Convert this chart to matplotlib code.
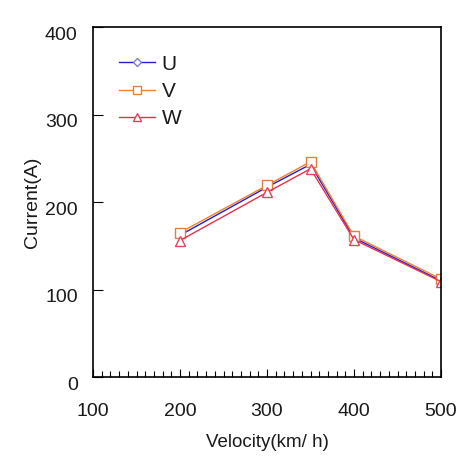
import matplotlib
matplotlib.use("Agg")
import matplotlib.pyplot as plt
from matplotlib.ticker import MultipleLocator
import matplotlib.transforms as mtransforms

plt.rcParams['font.family'] = ['Liberation Sans', 'DejaVu Sans']

velocity = [200, 300, 350, 400, 500]
current_u = [162, 217, 243, 159, 110]
current_v = [165, 219, 246, 161, 112]
current_w = [156, 211, 238, 157, 109]
series_names = ['U', 'V', 'W']

text_color = '#1a1a1a'

fig = plt.figure(figsize=(4.70, 4.61), dpi=100)
ax = fig.add_axes([93/470, 1-377/461, (441-93)/470, (377-27)/461])

ax.plot(velocity, current_u, color='#2020d0', marker='D', markersize=4.5,
        markerfacecolor='white', markeredgecolor='#8080c0', lw=1, label=series_names[0])
ax.plot(velocity, current_v, color='#f08030', marker='s', markersize=7,
        markerfacecolor='white', markeredgecolor='#e08040', lw=1, label=series_names[1])
ax.plot(velocity, current_w, color='#e8304a', marker='^', markersize=7,
        markerfacecolor='white', markeredgecolor='#e84060', lw=1, label=series_names[2])

ax.set_xlim(100, 500)
ax.set_ylim(0, 400)
ax.xaxis.set_major_locator(MultipleLocator(100))
ax.xaxis.set_minor_locator(MultipleLocator(10))
ax.yaxis.set_major_locator(MultipleLocator(100))
ax.tick_params(axis='x', which='major', direction='in', length=6, width=0.8, pad=19,
               labelsize=14, labelcolor=text_color)
ax.tick_params(axis='x', which='minor', direction='in', length=4, width=0.8)
ax.tick_params(axis='y', which='major', direction='in', length=7, width=0.8, pad=11,
               labelsize=14, labelcolor=text_color)

# y tick labels sit slightly lower than their ticks in the reference
offset = mtransforms.ScaledTranslation(0, -6/100, fig.dpi_scale_trans)
for lab in ax.get_yticklabels():
    lab.set_transform(lab.get_transform() + offset)

for s in ax.spines.values():
    s.set_linewidth(1.2)

ax.set_xlabel('Velocity(km/ h)', fontsize=13.5, labelpad=10, color=text_color)
ax.set_ylabel('Current(A)', fontsize=14, labelpad=3, color=text_color)

leg = ax.legend(loc='upper left', bbox_to_anchor=(0.05, 0.945), frameon=False,
                fontsize=15, handlelength=1.75, handletextpad=0.3, labelspacing=0.4,
                borderaxespad=0, labelcolor=text_color)
for h, ms in zip(leg.legend_handles, [4, 6, 6]):
    h.set_markersize(ms)

fig.savefig('out.png', dpi=100)
